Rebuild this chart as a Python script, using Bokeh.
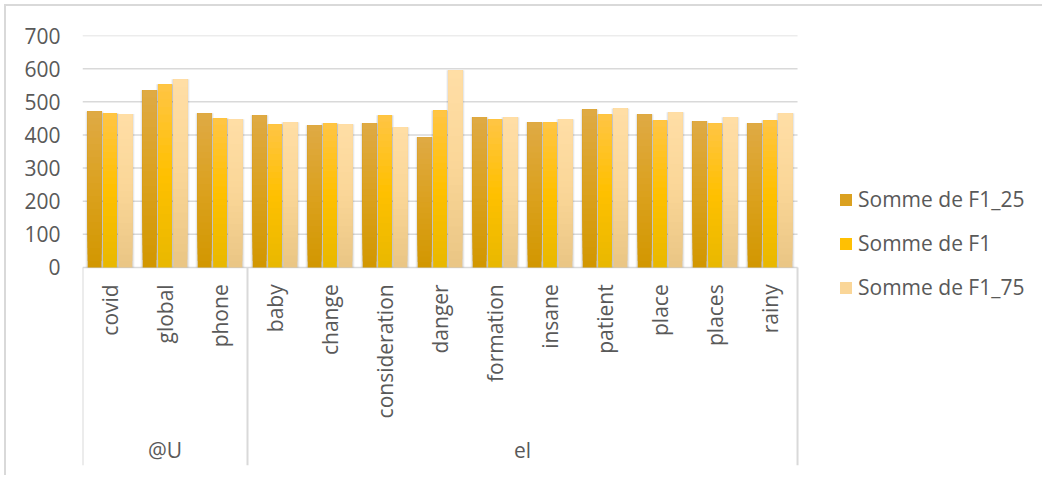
import math
from bokeh.plotting import figure
from bokeh.models import (ColumnDataSource, Range1d, FixedTicker, Legend, LegendItem)
from bokeh.transform import dodge
from bokeh.core.properties import value
from bokeh.embed import file_html
from bokeh.resources import INLINE

# ---------------- data ----------------
groups = ["@U", "@U", "@U", "el", "el", "el", "el", "el", "el", "el", "el", "el", "el"]
words = ["covid", "global", "phone", "baby", "change", "consideration", "danger",
         "formation", "insane", "patient", "place", "places", "rainy"]
F1_25 = [471, 535, 465, 459, 429, 435, 393, 453, 438, 477, 462, 441, 435]
F1 = [465, 553, 450, 432, 435, 459, 474, 447, 438, 462, 444, 435, 444]
F1_75 = [463, 568, 447, 438, 432, 423, 595, 453, 447, 480, 468, 453, 465]
series_names = ["Somme de F1_25", "Somme de F1", "Somme de F1_75"]
y_ticks = [0, 100, 200, 300, 400, 500, 600, 700]

# ---------------- styles ----------------
FONT = "Open Sans"
TXT = "#595959"
GRID = "#D9D9D9"
# gradient stops (bottom, middle, top) per series
STOPS = [
    ("#D29700", "#DBA11E", "#DFAA45"),
    ("#E8B800", "#FFC000", "#FFC545"),
    ("#E9C584", "#FAD697", "#FFDEA6"),
]
OFFSETS = [-0.28, 0.0, 0.28]
BAR_W = 0.25
N_STRIPS = 24


def hex2rgb(h):
    h = h.lstrip("#")
    return tuple(int(h[i:i + 2], 16) for i in (0, 2, 4))


def lerp(c1, c2, t):
    a, b = hex2rgb(c1), hex2rgb(c2)
    return "#%02X%02X%02X" % tuple(round(a[i] + (b[i] - a[i]) * t) for i in range(3))


def grad(stops, t):
    lo, mid, hi = stops
    if t < 0.5:
        return lerp(lo, mid, t / 0.5)
    return lerp(mid, hi, (t - 0.5) / 0.5)


n = len(words)
xs = list(range(n))

p = figure(x_range=Range1d(-0.5, 16.99), y_range=Range1d(-634, 700),
           width=1038, height=471, output_backend="svg", toolbar_location=None,
           x_axis_location=None,
           min_border_left=76, min_border_right=0, min_border_top=29, min_border_bottom=0)
p.margin = (4, 0, 0, 4)
p.styles = {"border-left": "2px solid #D9D9D9", "border-top": "2px solid #D9D9D9"}
p.outline_line_color = None
p.background_fill_color = "white"
p.border_fill_color = "white"
p.grid.visible = False

ticker = FixedTicker(ticks=y_ticks)
p.yaxis.ticker = ticker
p.yaxis.axis_line_color = None
p.yaxis.major_tick_line_color = None
p.yaxis.minor_tick_line_color = None
p.yaxis.major_tick_out = 0
p.yaxis.major_tick_in = 0
p.yaxis.major_label_standoff = 22
p.yaxis.major_label_text_font = FONT
p.yaxis.major_label_text_font_size = "21px"
p.yaxis.major_label_text_color = TXT

# horizontal gridlines spanning only the category area
p.segment(x0=-0.5, x1=n - 0.5, y0="t", y1="t", source=ColumnDataSource({"t": y_ticks}),
          line_color=GRID, line_width=1.5)

data = {"x": xs, "s0": F1_25, "s1": F1, "s2": F1_75}
src = ColumnDataSource(data)

# soft shadows behind bars
for si in range(3):
    key = "s%d" % si
    for extra, alpha in ((0.08, 0.06), (0.04, 0.09)):
        p.vbar(x=dodge("x", OFFSETS[si]), top=key, bottom=0,
               width=BAR_W + extra, source=src, fill_color="#000000", fill_alpha=alpha,
               line_color=None)

legend_renderers = []
for si in range(3):
    key = "s%d" % si
    vals = data[key]
    mid_r = None
    for k in range(N_STRIPS):
        t = k / N_STRIPS
        s = ColumnDataSource({"x": xs, "top": vals, "bottom": [v * t for v in vals]})
        r = p.vbar(x=dodge("x", OFFSETS[si]), top="top", bottom="bottom",
                   width=BAR_W, source=s, fill_color=grad(STOPS[si], t + 0.5 / N_STRIPS),
                   line_color=None)
        if k == N_STRIPS // 2:
            mid_r = r
    legend_renderers.append(mid_r)

# category axis
p.text(x="x", y=-51, text="w", source=ColumnDataSource({"x": xs, "w": words}),
       angle=math.pi / 2, text_align="right", text_baseline="middle",
       text_font=value(FONT), text_font_size="21px", text_color=TXT)

top_groups = list(dict.fromkeys(groups))
g_first = [groups.index(g) for g in top_groups]
g_last = [n - 1 - groups[::-1].index(g) for g in top_groups]
g_mid = [(a + b) / 2 for a, b in zip(g_first, g_last)]
p.text(x="x", y=-552, text="g", source=ColumnDataSource({"x": g_mid, "g": top_groups}),
       text_align="center", text_baseline="middle",
       text_font=value(FONT), text_font_size="21px", text_color=TXT)

bounds = [i - 0.5 for i in g_first] + [n - 0.5]
p.segment(x0="b", x1="b", y0=0, y1=-597, source=ColumnDataSource({"b": bounds}),
          line_color=GRID, line_width=2)

legend = Legend(items=[LegendItem(label=nm, renderers=[r]) for nm, r in zip(series_names, legend_renderers)],
                location=(756, 176), orientation="vertical")
legend.label_text_font = FONT
legend.label_text_font_size = "21px"
legend.label_text_color = TXT
legend.glyph_width = 15
legend.glyph_height = 15
legend.label_standoff = 5
legend.spacing = 16
legend.padding = 0
legend.margin = 0
legend.border_line_color = None
legend.background_fill_alpha = 0
p.add_layout(legend)

open("out.html", "w").write(file_html(p, INLINE))
